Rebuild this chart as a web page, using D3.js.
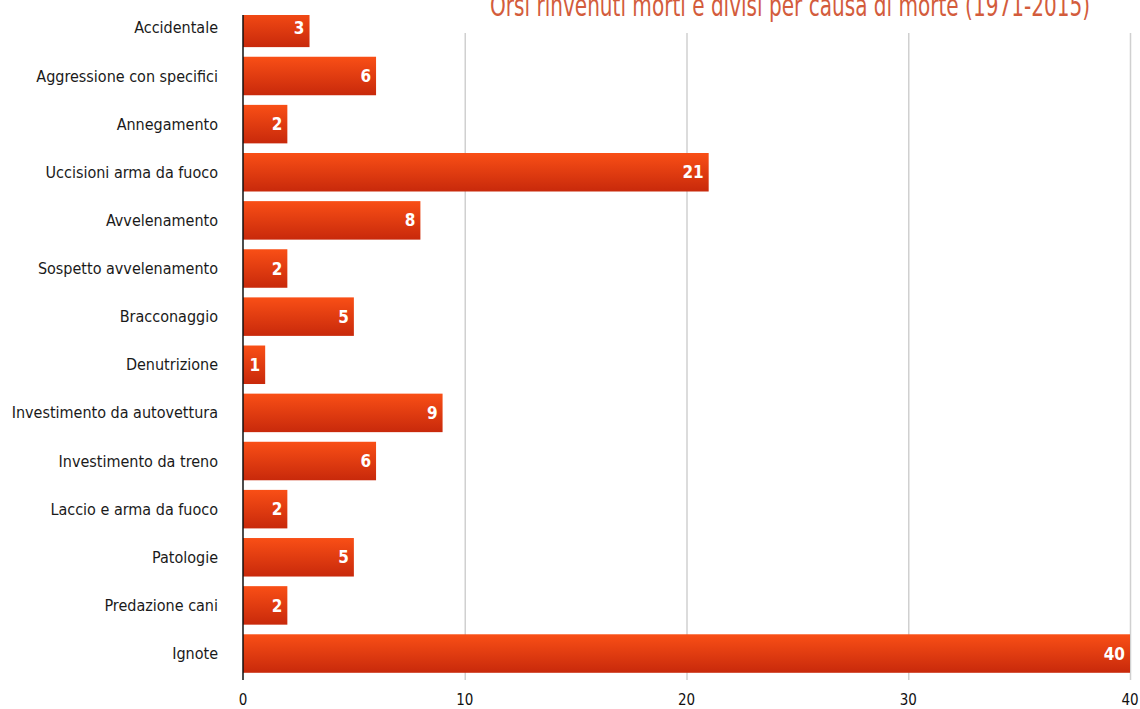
<!DOCTYPE html>
<html>
<head>
<meta charset="utf-8">
<script src="https://cdn.jsdelivr.net/npm/d3@7"></script>
<style>
  body { margin: 0; background: #fff; }
  svg { display: block; }
</style>
</head>
<body>
<script>
// cause of death categories, top to bottom
var causes = ["Accidentale", "Aggressione con specifici", "Annegamento",
    "Uccisioni arma da fuoco", "Avvelenamento", "Sospetto avvelenamento",
    "Bracconaggio", "Denutrizione", "Investimento da autovettura",
    "Investimento da treno", "Laccio e arma da fuoco", "Patologie",
    "Predazione cani", "Ignote"];
var counts = [3, 6, 2, 21, 8, 2, 5, 1, 9, 6, 2, 5, 2, 40];
var xTicks = [0, 10, 20, 30, 40];
var title = "Orsi rinvenuti morti e divisi per causa di morte (1971-2015)";

var W = 1140, H = 709;
var narrow = "'Liberation Sans Narrow', 'DejaVu Sans Condensed', 'Arial Narrow', sans-serif";

var svg = d3.select("body").append("svg")
    .attr("width", W)
    .attr("height", H);

var defs = svg.append("defs");
var grad = defs.append("linearGradient")
    .attr("id", "barGrad")
    .attr("x1", 0).attr("y1", 0).attr("x2", 0).attr("y2", 1);
grad.append("stop").attr("offset", "0%").attr("stop-color", "#f94f16");
grad.append("stop").attr("offset", "100%").attr("stop-color", "#c8290b");

// plot area is cut off at the top, first bar is clipped
defs.append("clipPath").attr("id", "plotClip")
    .append("rect")
    .attr("x", 0).attr("y", 15)
    .attr("width", W).attr("height", H - 15);

var x = d3.scaleLinear()
    .domain([0, 40])
    .range([243, 1130]);

var y = d3.scaleBand()
    .domain(causes)
    .range([3.8, 677.6])
    .paddingInner(0.2)
    .paddingOuter(0.1);

// vertical gridlines
svg.append("g").selectAll("line")
    .data(xTicks.slice(1))
    .enter()
    .append("line")
    .attr("x1", function(d) { return x(d) + 0.5; })
    .attr("x2", function(d) { return x(d) + 0.5; })
    .attr("y1", 33)
    .attr("y2", 680)
    .attr("stroke", "#d0d0d0")
    .attr("stroke-width", 1.5);

var plot = svg.append("g").attr("clip-path", "url(#plotClip)");

plot.selectAll("rect")
    .data(counts)
    .enter()
    .append("rect")
    .attr("x", x(0))
    .attr("y", function(d, i) { return y(causes[i]); })
    .attr("width", function(d) { return x(d) - x(0); })
    .attr("height", y.bandwidth())
    .attr("fill", "url(#barGrad)");

// value labels inside bars
plot.selectAll("text")
    .data(counts)
    .enter()
    .append("text")
    .attr("x", function(d) { return x(d) - 5; })
    .attr("y", function(d, i) { return y(causes[i]) + y.bandwidth() / 2; })
    .attr("dy", "0.36em")
    .attr("text-anchor", "end")
    .attr("fill", "#fff")
    .attr("font-family", narrow)
    .attr("font-weight", "bold")
    .attr("font-size", "17px")
    .text(function(d) { return d; });

// category labels
svg.append("g").selectAll("text")
    .data(causes)
    .enter()
    .append("text")
    .attr("x", 218)
    .attr("y", function(d) { return y(d) + y.bandwidth() / 2; })
    .attr("dy", "0.35em")
    .attr("text-anchor", "end")
    .attr("fill", "#1a1a1a")
    .attr("font-family", narrow)
    .attr("font-size", "16px")
    .text(function(d) { return d; });

// y axis line
svg.append("line")
    .attr("x1", x(0)).attr("x2", x(0))
    .attr("y1", 15).attr("y2", 680)
    .attr("stroke", "#111")
    .attr("stroke-width", 1.5);

// x tick labels
svg.append("g").selectAll("text")
    .data(xTicks)
    .enter()
    .append("text")
    .attr("x", function(d) { return x(d); })
    .attr("y", 705)
    .attr("text-anchor", "middle")
    .attr("fill", "#111")
    .attr("font-family", narrow)
    .attr("font-size", "15px")
    .text(function(d) { return d; });

// title, cut off at the top edge like the source image
svg.append("text")
    .attr("x", 490)
    .attr("y", 16)
    .attr("textLength", 600)
    .attr("lengthAdjust", "spacingAndGlyphs")
    .attr("fill", "#d35c3c")
    .attr("font-family", narrow)
    .attr("font-size", "30px")
    .text(title);
</script>
</body>
</html>
